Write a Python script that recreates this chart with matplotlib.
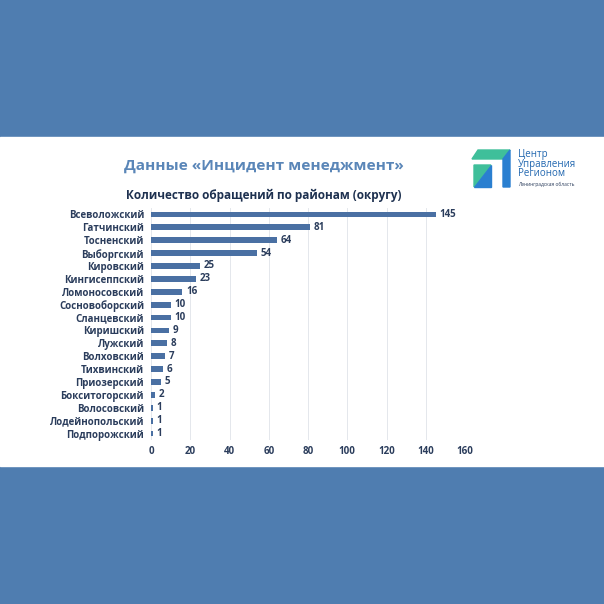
import matplotlib
matplotlib.use("Agg")
from matplotlib import pyplot as plt
from matplotlib.patches import Polygon, Rectangle

# data
districts = ["Всеволожский", "Гатчинский", "Тосненский", "Выборгский", "Кировский",
             "Кингисеппский", "Ломоносовский", "Сосновоборский", "Сланцевский",
             "Киришский", "Лужский", "Волховский", "Тихвинский", "Приозерский",
             "Бокситогорский", "Волосовский", "Лодейнопольский", "Подпорожский"]
counts = [145, 81, 64, 54, 25, 23, 16, 10, 10, 9, 8, 7, 6, 5, 2, 1, 1, 1]
xticks = [0, 20, 40, 60, 80, 100, 120, 140, 160]

title = "Данные «Инцидент менеджмент»"
subtitle = "Количество обращений по районам (округу)"

bg_blue = "#4f7db0"
bar_col = "#4a70a3"
title_col = "#5a86b8"
dark = "#1e3150"
label_col = "#2b3d5c"

plt.rcParams['font.family'] = ['Open Sans', 'DejaVu Sans']

fig = plt.figure(figsize=(6.04, 6.04), dpi=100)
fig.patch.set_facecolor(bg_blue)

W = 604.0
def fy(py):
    return 1 - py / W

# white band
fig.patches.append(Rectangle((0, fy(466)), 1, (466 - 137) / W,
                             transform=fig.transFigure, color="white", zorder=-5))

fig.text(124 / W, fy(166), title, fontsize=11.1, fontweight="bold",
         color=title_col, va="center", ha="left")
fig.text(126 / W, fy(195), subtitle, fontsize=8.5, fontweight="bold",
         color=dark, va="center", ha="left")

# logo
green = "#3fbf9a"
blue = "#2a7fd0"
def px(pts):
    return [(x / W, fy(y)) for x, y in pts]
fig.patches.append(Polygon(px([(478, 150), (510, 150), (503, 159), (472, 159)]),
                           closed=True, transform=fig.transFigure, color=green, zorder=2))
fig.patches.append(Polygon(px([(474, 165), (491, 165), (474, 187)]),
                           closed=True, transform=fig.transFigure, color=green, zorder=2))
fig.patches.append(Polygon(px([(491, 165), (491, 187), (474, 187)]),
                           closed=True, transform=fig.transFigure, color=blue, zorder=2))
fig.patches.append(Polygon(px([(503, 159), (510, 150), (510, 187), (503, 187)]),
                           closed=True, transform=fig.transFigure, color=blue, zorder=2))
for i, t in enumerate(["Центр", "Управления", "Регионом"]):
    fig.text(518 / W, fy(155 + i * 9.5), t, fontsize=7, color="#2368b0",
             va="center", ha="left")
fig.text(518 / W, fy(184), "Ленинградская область", fontsize=3.5,
         color="#2b3d5c", va="center", ha="left")

# chart
ax = fig.add_axes([151 / W, fy(440), 314 / W, (440 - 208) / W])
ax.set_facecolor("none")
y = list(range(len(districts)))
ax.barh(y, counts, height=0.45, color=bar_col, zorder=3)
for yi, v in zip(y, counts):
    ax.text(v + 1.8, yi, str(v), va="center", ha="left", fontsize=7,
            fontweight="bold", color=label_col)

ax.set_ylim(len(districts) - 0.5, -0.5)
ax.set_xlim(0, 160)
ax.set_xticks(xticks)
ax.set_xticklabels([str(t) for t in xticks], fontsize=7, fontweight="bold",
                   color=label_col)
ax.set_yticks(y)
ax.set_yticklabels(districts, fontsize=7, fontweight="bold", color=label_col)
ax.tick_params(length=0, pad=5)
ax.tick_params(axis="x", pad=4)
ax.grid(axis="x", color="#e4e7ec", linewidth=0.7, zorder=0)
for s in ax.spines.values():
    s.set_visible(False)

fig.savefig("out.png", dpi=100, facecolor=fig.get_facecolor())
